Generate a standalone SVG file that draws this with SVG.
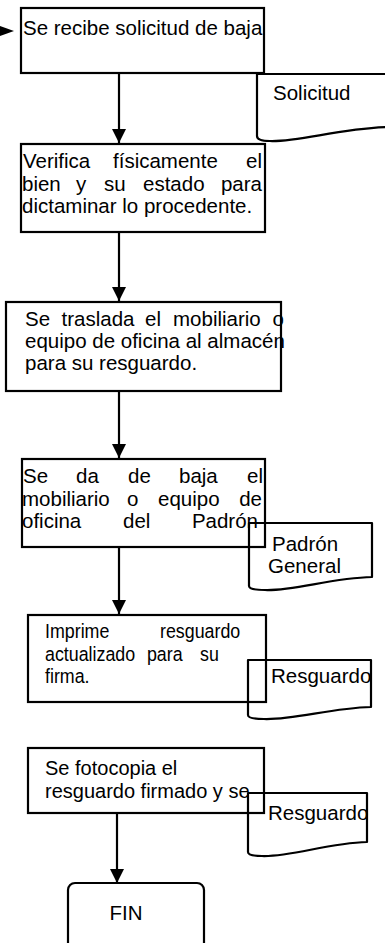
<svg xmlns="http://www.w3.org/2000/svg" width="385" height="943" viewBox="0 0 385 943">
<style>
.box{fill:none;stroke:#000;stroke-width:2.2}
.doc{fill:none;stroke:#000;stroke-width:2.2;stroke-linejoin:round}
.conn{fill:none;stroke:#000;stroke-width:2.2}
text{font-family:"Liberation Sans",Arial,sans-serif;font-size:20.5px;fill:#000}
.s20{font-size:20px}
.e{text-anchor:end}
</style>
<defs>
<marker id="ah" viewBox="0 0 14 14" refX="14" refY="7" markerWidth="14" markerHeight="14" markerUnits="userSpaceOnUse" orient="auto">
<path d="M0,0 L14,7 L0,14 Z" fill="#000"/>
</marker>
</defs>
<rect width="385" height="943" fill="#fff"/>
<g id="connectors">
<polygon points="0,26 14,31 0,36" fill="#000"/>
<path class="conn" d="M119,73 V143" marker-end="url(#ah)"/>
<path class="conn" d="M119,232 V301" marker-end="url(#ah)"/>
<path class="conn" d="M119,391 V458" marker-end="url(#ah)"/>
<path class="conn" d="M119,547 V614" marker-end="url(#ah)"/>
<path class="conn" d="M117,813 V883" marker-end="url(#ah)"/>
</g>
<g id="n1">
<rect class="box" x="21" y="8" width="243" height="65"/>
<text x="23" y="35">Se recibe solicitud de baja</text>
</g>
<g id="d1">
<path class="doc" d="M257,74 H390 V127 C340,128 300,142 270,141 C262,141 257,140 257,136 Z"/>
<text x="273" y="100">Solicitud</text>
</g>
<g id="n2">
<rect class="box" x="21" y="144" width="244" height="88"/>
<text y="168"><tspan x="23">Verifica</tspan><tspan x="113">físicamente</tspan><tspan class="e" x="262">el</tspan></text>
<text y="191"><tspan x="22">bien</tspan><tspan x="76">y</tspan><tspan x="104">su</tspan><tspan x="143">estado</tspan><tspan class="e" x="262">para</tspan></text>
<text x="22" y="213">dictaminar lo procedente.</text>
</g>
<g id="n3">
<rect class="box" x="6" y="302" width="275" height="89"/>
<text y="326"><tspan x="25">Se</tspan><tspan x="61.5">traslada</tspan><tspan x="145">el</tspan><tspan x="173">mobiliario</tspan><tspan class="e" x="284">o</tspan></text>
<text x="25" y="348">equipo de oficina al almacén</text>
<text x="25" y="370">para su resguardo.</text>
</g>
<g id="n4">
<rect class="box" x="22" y="459" width="243" height="88"/>
<text y="483"><tspan x="23">Se</tspan><tspan x="76">da</tspan><tspan x="128">de</tspan><tspan x="179">baja</tspan><tspan class="e" x="263">el</tspan></text>
<text y="506"><tspan x="22">mobiliario</tspan><tspan x="127">o</tspan><tspan x="158">equipo</tspan><tspan class="e" x="262">de</tspan></text>
<text y="528"><tspan x="22">oficina</tspan><tspan x="123">del</tspan><tspan class="e" x="258">Padrón</tspan></text>
</g>
<g id="d2">
<path class="doc" d="M249,523 H372 V577 C330,578 295,591 265,590 C255,590 249,589 249,586 Z"/>
<text x="272" y="551">Padrón</text>
<text x="268" y="573">General</text>
</g>
<g id="n5">
<rect class="box" x="28" y="615" width="238" height="87"/>
<g transform="translate(45,0) scale(0.87,1) translate(-45,0)">
<text y="638"><tspan x="45">Imprime</tspan><tspan x="177.2">resguardo</tspan></text>
<text y="661"><tspan x="45">actualizado</tspan><tspan x="162.2">para</tspan><tspan x="223.2">su</tspan></text>
<text x="45" y="683">firma.</text>
</g>
</g>
<g id="d3">
<path class="doc" d="M248,660 H371 V707 C330,708 295,720 264,719 C254,719 248,718 248,715 Z"/>
<text x="271" y="683">Resguardo</text>
</g>
<g id="n6">
<rect class="box" x="28" y="748" width="236" height="65"/>
<text class="s20" x="45" y="775">Se fotocopia el</text>
<text class="s20" x="45" y="798">resguardo firmado y se</text>
</g>
<g id="d4">
<path class="doc" d="M248,793 H367 V842 C327,843 292,857 262,856 C253,856 248,855 248,852 Z"/>
<text x="268" y="820">Resguardo</text>
</g>
<g id="n7">
<rect class="box" x="68" y="883" width="136" height="80" rx="7"/>
<text x="126" y="920" text-anchor="middle">FIN</text>
</g>
</svg>
